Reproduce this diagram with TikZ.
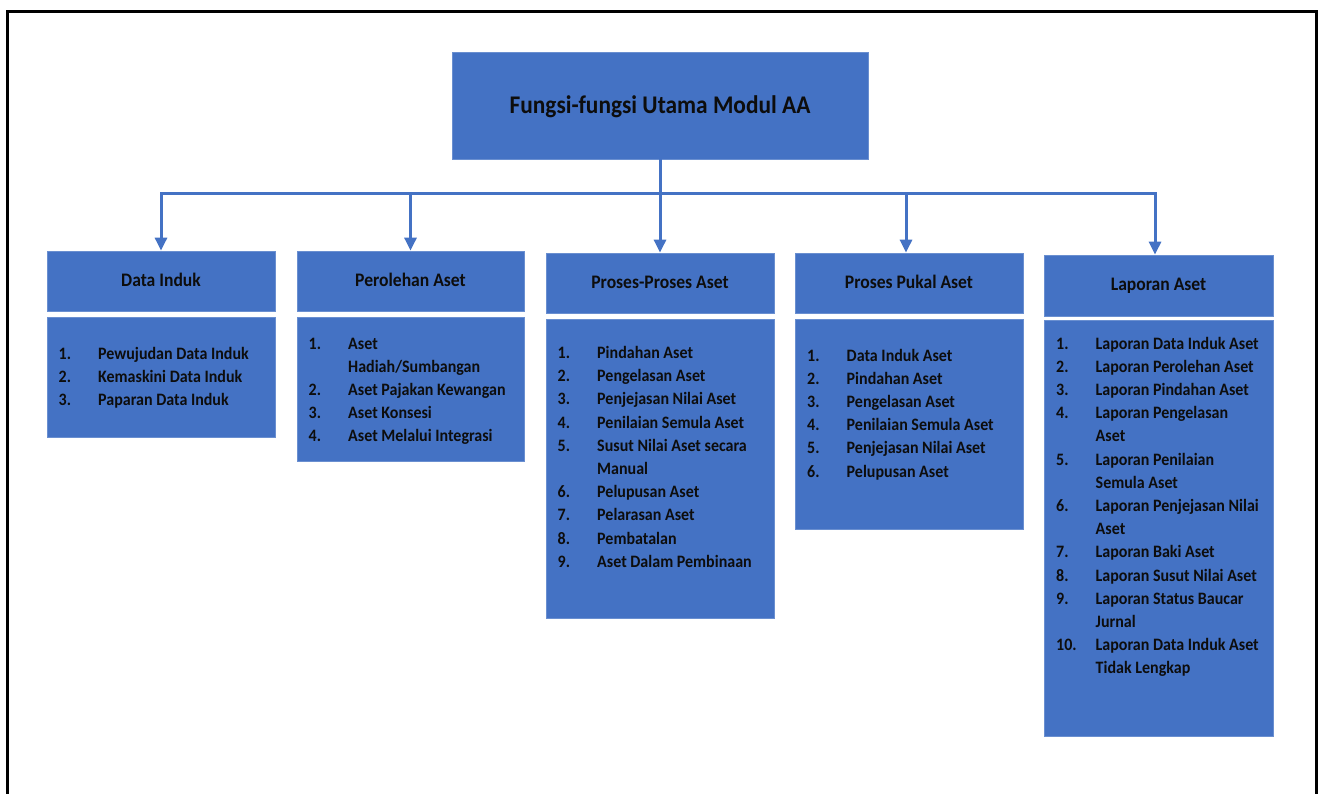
\documentclass[tikz,border=0pt]{standalone}
\usepackage{fontspec}
\setmainfont{Carlito}[FakeStretch=0.92]
\usetikzlibrary{arrows.meta}
\definecolor{boxblue}{HTML}{4472C4}
\definecolor{edgeblue}{HTML}{6A8FD0}
\definecolor{txt}{HTML}{0D0D0D}
\newcommand\mylist[4]{%
  \foreach \n/\t [count=\i from 0] in {#4} {
    \node[numtxt] (#1n\i) at (#2+11.5, #3+\i*23.2) {\n};
    \node[itemtxt] (#1t\i) at (#2+51, #3+\i*23.2) {\t};
  }}
\newcommand\lowered[2][2pt]{\raisebox{-#1}{#2}}
\begin{document}
\begin{tikzpicture}[x=1pt,y=-1pt,
  box/.style={fill=boxblue,draw=edgeblue,line width=0.8pt,inner sep=0pt},
  headbox/.style={box,text=txt,font=\fontsize{19.1}{22}\selectfont\bfseries,text height=0.7em,text depth=0.1em},
  titlebox/.style={box,text=txt,font=\fontsize{25.4}{28}\selectfont\bfseries,text height=0.7em,text depth=0.1em},
  listbox/.style={box,anchor=north west},
  numtxt/.style={anchor=base west,inner sep=0pt,text=txt,font=\fontsize{17.4}{20}\selectfont\bfseries},
  itemtxt/.style={anchor=base west,inner sep=0pt,text=txt,font=\fontsize{17.4}{20}\selectfont\bfseries},
  conn/.style={draw=boxblue,line width=3pt},
  tip/.style={-{Triangle[width=12pt,length=13pt]}}]
\useasboundingbox (0,0) rectangle (1321,793);
\fill[white] (0,0) rectangle (1321,793);
% outer frame (bottom edge lies outside the picture)
\draw[line width=3pt] (7.5,800) -- (7.5,11.5) -- (1316.5,11.5) -- (1316.5,800);

% top node
\node[titlebox,minimum width=416pt,minimum height=107pt] (top) at (660,105.5) {\lowered[4.5pt]{Fungsi-fungsi Utama Modul AA}};

% header boxes
\node[headbox,minimum width=228pt,minimum height=60pt] (h1) at (161,281) {\lowered{Data Induk}};
\node[headbox,minimum width=227pt,minimum height=60pt] (h2) at (410.5,281) {\lowered{Perolehan Aset}};
\node[headbox,minimum width=228pt,minimum height=60pt] (h3) at (660,283) {\lowered{Proses-Proses Aset}};
\node[headbox,minimum width=228pt,minimum height=60pt] (h4) at (909,283) {\lowered{Proses Pukal Aset}};
\node[headbox,minimum width=229pt,minimum height=61pt] (h5) at (1158.5,285.5) {\lowered{Laporan Aset}};

% content boxes
\node[listbox,minimum width=228pt,minimum height=120pt] (c1) at (47,317) {};
\node[listbox,minimum width=227pt,minimum height=144pt] (c2) at (297,317) {};
\node[listbox,minimum width=228pt,minimum height=299pt] (c3) at (546,319) {};
\node[listbox,minimum width=228pt,minimum height=210pt] (c4) at (795,319) {};
\node[listbox,minimum width=229pt,minimum height=416pt] (c5) at (1044,320) {};

% connectors
\coordinate (j1) at (161,193);
\coordinate (j2) at (410.5,193);
\coordinate (j4) at (906,193);
\coordinate (j5) at (1155,193);
\draw[conn,{Triangle[width=12pt,length=13pt]}-{Triangle[width=12pt,length=13pt]}]
  (j1 |- h1.north) -- (j1) -- (j5) -- (j5 |- h5.north);
\draw[conn,tip] (top.south) -- (h3.north);
\draw[conn,tip] (j2) -- (j2 |- h2.north);
\draw[conn,tip] (j4) -- (j4 |- h4.north);

% lists
\mylist{a}{47}{359}{1./Pewujudan Data Induk, 2./Kemaskini Data Induk, 3./Paparan Data Induk}
\mylist{b}{297}{349}{1./Aset, {}/{Hadiah/Sumbangan}, 2./Aset Pajakan Kewangan, 3./Aset Konsesi, 4./Aset Melalui Integrasi}
\mylist{c}{546}{358.5}{1./Pindahan Aset, 2./Pengelasan Aset, 3./Penjejasan Nilai Aset, 4./Penilaian Semula Aset, 5./Susut Nilai Aset secara, {}/Manual, 6./Pelupusan Aset, 7./Pelarasan Aset, 8./Pembatalan, 9./Aset Dalam Pembinaan}
\mylist{d}{795.5}{361}{1./Data Induk Aset, 2./Pindahan Aset, 3./Pengelasan Aset, 4./Penilaian Semula Aset, 5./Penjejasan Nilai Aset, 6./Pelupusan Aset}
\mylist{e}{1044.5}{349}{1./Laporan Data Induk Aset, 2./Laporan Perolehan Aset, 3./Laporan Pindahan Aset, 4./Laporan Pengelasan, {}/Aset, 5./Laporan Penilaian, {}/Semula Aset, 6./Laporan Penjejasan Nilai, {}/Aset, 7./Laporan Baki Aset, 8./Laporan Susut Nilai Aset, 9./Laporan Status Baucar, {}/Jurnal, 10./Laporan Data Induk Aset, {}/Tidak Lengkap}
\end{tikzpicture}
\end{document}
